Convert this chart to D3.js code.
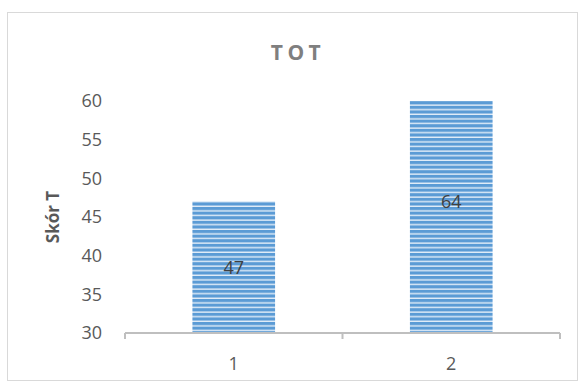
<!DOCTYPE html>
<html>
<head>
<meta charset="utf-8">
<script src="https://cdn.jsdelivr.net/npm/d3@7"></script>
<style>
  html, body { margin: 0; padding: 0; background: #fff; }
  svg { display: block; }
  text { font-family: "Open Sans", "Noto Sans", sans-serif; }
</style>
</head>
<body>
<svg id="chart" width="584" height="387"></svg>
<script>
// Chart data
const categories = ["1", "2"];
const values = [47, 64];
const yTicks = [30, 35, 40, 45, 50, 55, 60];
const chartTitle = "TOT";
const yTitle = "Skór T";

const W = 584, H = 387;
const margin = { left: 125, right: 24, top: 101, bottom: 54 };
const yMin = 30, yMax = 60;

const svg = d3.select("#chart");

// Outer frame
svg.append("rect")
  .attr("x", 7.5).attr("y", 12.5)
  .attr("width", 570).attr("height", 368)
  .attr("fill", "#fff")
  .attr("stroke", "#d9d9d9")
  .attr("stroke-width", 1);

// Horizontal stripe fill for bars
const defs = svg.append("defs");
const pat = defs.append("pattern")
  .attr("id", "stripes")
  .attr("patternUnits", "userSpaceOnUse")
  .attr("width", 10).attr("height", 4.6);
pat.append("rect").attr("width", 10).attr("height", 4.6).attr("fill", "#5b9bd5");
pat.append("rect").attr("y", 3.2).attr("width", 10).attr("height", 1.4).attr("fill", "#e2edf8");

const clip = defs.append("clipPath").attr("id", "plotclip");

const x = d3.scaleBand()
  .domain(categories)
  .range([margin.left, W - margin.right])
  .paddingInner(0.62)
  .paddingOuter(0.31);

const y = d3.scaleLinear()
  .domain([yMin, yMax])
  .range([H - margin.bottom, margin.top]);

clip.append("rect")
  .attr("x", margin.left).attr("y", margin.top)
  .attr("width", W - margin.left - margin.right)
  .attr("height", y(yMin) - y(yMax));

// Title
svg.append("text")
  .attr("x", (W + 12) / 2).attr("y", 60)
  .attr("text-anchor", "middle")
  .attr("font-size", 21)
  .attr("font-weight", "bold")
  .attr("letter-spacing", 4.5)
  .attr("fill", "#7f7f7f")
  .text(chartTitle);

// Bars
svg.append("g")
  .attr("clip-path", "url(#plotclip)")
  .selectAll("rect")
  .data(values)
  .join("rect")
  .attr("x", (d, i) => x(categories[i]))
  .attr("width", x.bandwidth())
  .attr("y", d => y(d))
  .attr("height", d => y(yMin) - y(d))
  .attr("fill", "url(#stripes)");

// Value labels at the centre of each bar
svg.append("g")
  .selectAll("text")
  .data(values)
  .join("text")
  .attr("x", (d, i) => x(categories[i]) + x.bandwidth() / 2)
  .attr("y", d => y((yMin + d) / 2))
  .attr("dy", "0.35em")
  .attr("text-anchor", "middle")
  .attr("font-size", 18)
  .attr("fill", "#404040")
  .text(d => d);

// Y axis (labels only)
const yAxis = svg.append("g")
  .attr("transform", `translate(${margin.left},0)`)
  .call(d3.axisLeft(y).tickValues(yTicks).tickSize(0).tickPadding(23));
yAxis.select(".domain").remove();
yAxis.selectAll("text")
  .attr("font-size", 18)
  .attr("fill", "#595959")
  .style("font-family", "'Open Sans', sans-serif");

// X axis
const xAxis = svg.append("g")
  .attr("transform", `translate(0,${y(yMin)})`);
xAxis.append("line")
  .attr("x1", margin.left).attr("x2", W - margin.right)
  .attr("stroke", "#bfbfbf").attr("stroke-width", 2);
const edges = [margin.left, ...categories.slice(1).map(c => x(c) - x.step() * x.paddingInner() / 2), W - margin.right];
xAxis.selectAll("line.tick")
  .data(edges)
  .join("line")
  .attr("class", "tick")
  .attr("x1", d => d).attr("x2", d => d)
  .attr("y1", 0).attr("y2", 6)
  .attr("stroke", "#bfbfbf").attr("stroke-width", 2);
xAxis.selectAll("text")
  .data(categories)
  .join("text")
  .attr("x", c => x(c) + x.bandwidth() / 2)
  .attr("y", 37)
  .attr("text-anchor", "middle")
  .attr("font-size", 18)
  .attr("fill", "#595959")
  .text(c => c);

// Y axis title
svg.append("text")
  .attr("transform", `translate(59,${(y(yMin) + y(yMax)) / 2}) rotate(-90)`)
  .attr("text-anchor", "middle")
  .attr("font-size", 17)
  .attr("font-weight", "bold")
  .attr("fill", "#595959")
  .text(yTitle);
</script>
</body>
</html>
